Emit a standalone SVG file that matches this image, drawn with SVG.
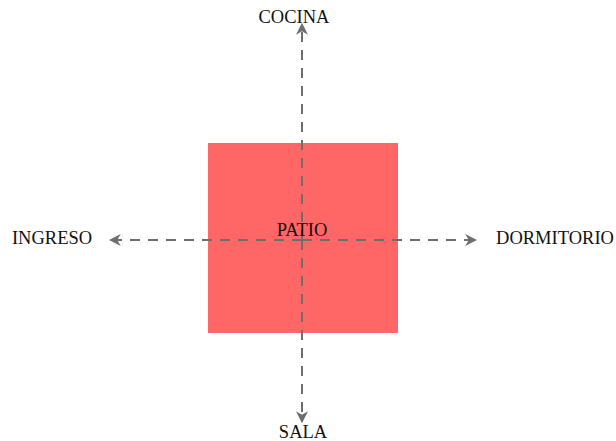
<svg xmlns="http://www.w3.org/2000/svg" width="616" height="441" viewBox="0 0 616 441">
<style>
text{font-family:"Liberation Serif","Times New Roman",serif;font-size:18.5px;fill:#111}
.c{stroke:#6e6e6e;stroke-width:2;stroke-dasharray:10,8;fill:none}
</style>
<defs>
<marker id="ah" viewBox="0 0 10 10" refX="9" refY="5" markerWidth="12" markerHeight="12" markerUnits="userSpaceOnUse" orient="auto">
<path d="M0,0 L10,5 L0,10 L3,5 Z" fill="#6e6e6e"/>
</marker>
</defs>
<rect width="616" height="441" fill="#fff"/>
<g id="patio"><rect x="208" y="143" width="190" height="190" fill="#ff6666"/></g>
<g id="connectors">
<path class="c" d="M302,240 L302,24" marker-end="url(#ah)"/>
<path class="c" d="M302,240 L302,422" marker-end="url(#ah)"/>
<path class="c" d="M302,240 L110,240" marker-end="url(#ah)"/>
<path class="c" d="M302,240 L476,240" marker-end="url(#ah)"/>
</g>
<g id="patio-label"><text x="302" y="236" text-anchor="middle">PATIO</text></g>
<g id="cocina"><text x="294" y="23" text-anchor="middle">COCINA</text></g>
<g id="sala"><text x="303" y="438" text-anchor="middle">SALA</text></g>
<g id="ingreso"><text x="52" y="244" text-anchor="middle">INGRESO</text></g>
<g id="dormitorio"><text x="555" y="244" text-anchor="middle">DORMITORIO</text></g>
</svg>
